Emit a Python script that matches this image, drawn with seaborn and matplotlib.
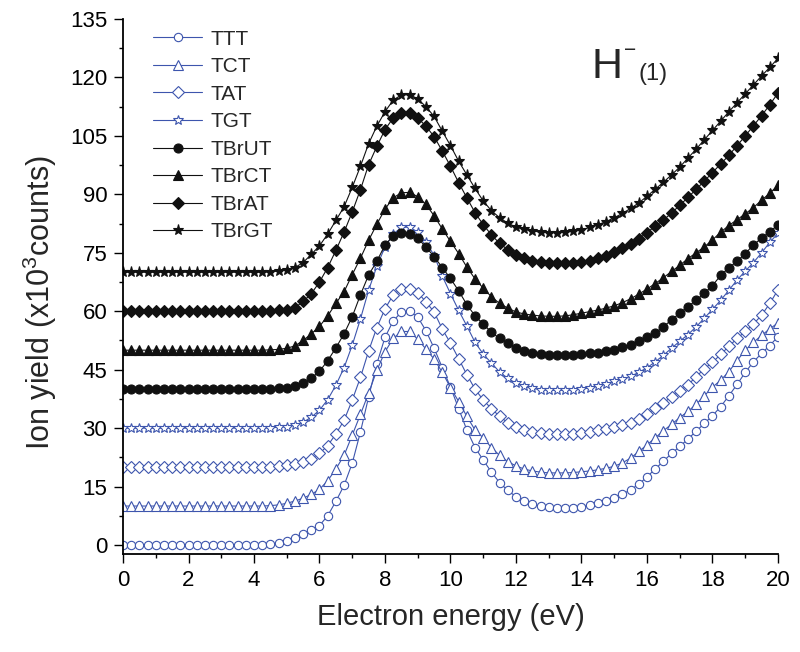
import numpy as np
import pandas as pd
import matplotlib
matplotlib.use("Agg")
import matplotlib.pyplot as plt
from matplotlib.ticker import MultipleLocator
from matplotlib.lines import Line2D
import seaborn as sns

# ---------------- data ----------------
energy = [0.0, 0.25, 0.5, 0.75, 1.0, 1.25, 1.5, 1.75, 2.0, 2.25, 2.5, 2.75,
          3.0, 3.25, 3.5, 3.75, 4.0, 4.25, 4.5, 4.75, 5.0, 5.25, 5.5, 5.75,
          6.0, 6.25, 6.5, 6.75, 7.0, 7.25, 7.5, 7.75, 8.0, 8.25, 8.5, 8.75,
          9.0, 9.25, 9.5, 9.75, 10.0, 10.25, 10.5, 10.75, 11.0, 11.25, 11.5, 11.75,
          12.0, 12.25, 12.5, 12.75, 13.0, 13.25, 13.5, 13.75, 14.0, 14.25, 14.5, 14.75,
          15.0, 15.25, 15.5, 15.75, 16.0, 16.25, 16.5, 16.75, 17.0, 17.25, 17.5, 17.75,
          18.0, 18.25, 18.5, 18.75, 19.0, 19.25, 19.5, 19.75, 20.0]

TTT = [0, 0, 0, 0, 0, 0, 0, 0, 0, 0, 0, 0, 0, 0, 0, 0, 0, 0,
       0.2, 0.5, 1.0, 1.8, 2.8, 3.8, 5.0, 7.5, 11.2, 15.3,
       21, 29, 38, 46.5, 53.3, 57.5, 59.8, 60, 58.5, 55,
       50.5, 45.5, 40.5, 35, 29.5, 25, 21.8, 18.7, 16, 14,
       12.4, 11.2, 10.5, 10, 9.7, 9.5, 9.5, 9.6, 9.8, 10.2,
       10.7, 11.3, 12, 13, 14.2, 15.6, 17.5, 19.5, 21.5, 23.5,
       25.3, 27.2, 29.2, 31.2, 33.2, 35.5, 38.3, 41.2, 44.3, 47,
       49.2, 51.2, 53.5]

TCT = [10, 10, 10, 10, 10, 10, 10, 10, 10, 10, 10, 10, 10, 10, 10, 10, 10, 10,
       10.1, 10.3, 10.7, 11.3, 12, 13, 14.3, 16.5, 19.5, 23,
       28.2, 33.5, 39, 44.8, 49.6, 53, 54.8, 54.8, 52.8, 50.3,
       47.7, 44.3, 40.4, 36.8, 33, 29.5, 27.5, 25, 23, 21.4,
       20.3, 19.5, 19, 18.7, 18.5, 18.5, 18.5, 18.6, 18.8, 19,
       19.3, 19.7, 20.2, 21.1, 22.3, 24, 25.7, 27.5, 29.3, 31,
       32.7, 34.3, 36.1, 38.3, 40.5, 42.3, 44.5, 47.3, 50, 52,
       53.8, 55.5, 57]

TAT = [20, 20, 20, 20, 20, 20, 20, 20, 20, 20, 20, 20, 20, 20, 20, 20, 20, 20,
       20.1, 20.3, 20.5, 20.8, 21.3, 22.2, 23.5, 25.5, 28.5, 32,
       37.2, 43, 49.8, 55.8, 60.6, 64.2, 65.8, 65.7, 64.8, 62.4,
       59.8, 55.4, 51.8, 47.8, 43.7, 40, 37.2, 35, 33, 31.4,
       30.3, 29.6, 29.1, 28.8, 28.6, 28.5, 28.5, 28.6, 28.7, 29,
       29.4, 29.9, 30.4, 30.9, 31.4, 32.3, 33.6, 35.1, 36.5, 38,
       39.5, 41.1, 43.2, 45.2, 46.9, 48.9, 51, 53, 54.8, 56.7,
       59, 62, 65.5]

TGT = [30, 30, 30, 30, 30, 30, 30, 30, 30, 30, 30, 30, 30, 30, 30, 30, 30, 30,
       30.1, 30.2, 30.4, 30.8, 31.5, 32.8, 34.6, 37.3, 41, 45.5,
       51.3, 58, 65.4, 71.5, 76.5, 79.8, 81.5, 81.6, 80.3, 77.8,
       74.3, 69, 64.5, 60.2, 56.2, 52, 49, 46.7, 44.4, 42.8,
       41.5, 40.7, 40.2, 39.9, 39.7, 39.7, 39.7, 39.8, 40, 40.3,
       40.8, 41.4, 42, 42.5, 43.3, 44.3, 45.5, 47, 48.7, 50.5,
       52.3, 54, 56, 58.2, 60.5, 62.8, 65.4, 68, 70.3, 72.5,
       75, 77.7, 80]

TBrUT = [40, 40, 40, 40, 40, 40, 40, 40, 40, 40, 40, 40, 40, 40, 40, 40, 40, 40,
         40.1, 40.2, 40.4, 40.8, 41.5, 42.8, 44.6, 47.3, 50.6, 54.2,
         58.6, 64.2, 69.3, 72.8, 77, 79.3, 80, 79.8, 78.7, 76.5,
         74, 71.2, 68.4, 65.2, 61.7, 58.8, 56.7, 54.6, 53, 51.8,
         50.6, 49.9, 49.4, 49.1, 48.8, 48.7, 48.7, 48.8, 49, 49.2,
         49.4, 49.7, 50.1, 50.7, 51.4, 52.4, 53.4, 54.4, 56, 57.8,
         59.5, 61.2, 62.8, 64.6, 66.6, 69.2, 71.2, 72.8, 74.8, 77,
         78.8, 80.4, 82.2]

TBrCT = [50, 50, 50, 50, 50, 50, 50, 50, 50, 50, 50, 50, 50, 50, 50, 50, 50, 50,
         50.1, 50.2, 50.5, 51.1, 52.5, 54.2, 56.1, 58.8, 62, 65,
         69.4, 73.6, 78.2, 82.3, 86.2, 89.1, 90.4, 90.5, 89.4, 87.4,
         84.5, 81.1, 77.9, 74.8, 71.3, 68.3, 65.9, 63.7, 62, 60.8,
         59.8, 59.3, 59, 58.8, 58.7, 58.7, 58.8, 59.1, 59.5, 59.9,
         60.3, 60.8, 61.4, 62.2, 63.2, 64.4, 65.7, 67.1, 68.6, 70.2,
         71.8, 73.5, 75, 76.5, 78.3, 80.3, 82, 83.5, 85, 86.6,
         88.5, 90.3, 92.3]

TBrAT = [60, 60, 60, 60, 60, 60, 60, 60, 60, 60, 60, 60, 60, 60, 60, 60, 60, 60,
         60.1, 60.2, 60.4, 60.9, 62.5, 64.5, 67.5, 71.2, 75.6, 80.3,
         85.5, 91.2, 97.6, 102.3, 106.6, 109.6, 110.8, 110.9, 109.6, 107.5,
         104.8, 101.1, 97.2, 93, 89.1, 85.3, 82.2, 79.6, 77.4, 75.8,
         74.5, 73.6, 73, 72.6, 72.4, 72.3, 72.3, 72.4, 72.6, 73,
         73.6, 74.3, 75.1, 76.1, 77.3, 78.6, 80.2, 81.8, 83.4, 85.2,
         87.2, 89.2, 91.3, 93.4, 95.6, 97.8, 100, 102.5, 105, 107.6,
         110.2, 113, 116]

TBrGT = [70, 70, 70, 70, 70, 70, 70, 70, 70, 70, 70, 70, 70, 70, 70, 70, 70, 70,
         70.1, 70.3, 70.6, 71.2, 72.5, 74.6, 76.8, 79.8, 83.3, 86.8,
         91.8, 97.2, 103, 107.5, 111.2, 114.2, 115.5, 115.6, 114.5, 112.5,
         110, 106.2, 102.5, 98.5, 95, 91.5, 88.3, 85.8, 84, 82.6,
         81.6, 81, 80.6, 80.3, 80.2, 80.2, 80.3, 80.5, 80.9, 81.5,
         82.2, 83, 84, 85.1, 86.4, 87.8, 89.5, 91.3, 93.1, 95,
         97, 99.3, 101.6, 104, 106.4, 108.8, 111.2, 113.5, 115.8, 118.1,
         120.4, 122.6, 124.9]

series_names = ["TTT", "TCT", "TAT", "TGT", "TBrUT", "TBrCT", "TBrAT", "TBrGT"]
series_values = [TTT, TCT, TAT, TGT, TBrUT, TBrCT, TBrAT, TBrGT]
yticks = [0, 15, 30, 45, 60, 75, 90, 105, 120, 135]
xticks = [0, 2, 4, 6, 8, 10, 12, 14, 16, 18, 20]

for name, vals in zip(series_names, series_values):
    assert len(vals) == len(energy), (name, len(vals))

# ---------------- styles ----------------
BLUE = "#3d55ad"
BLACK = "#111111"
styles = {
    "TTT":   dict(marker="o", color=BLUE, mfc="white", ms=6.0),
    "TCT":   dict(marker="^", color=BLUE, mfc="white", ms=6.5),
    "TAT":   dict(marker="D", color=BLUE, mfc="white", ms=5.8),
    "TGT":   dict(marker="*", color=BLUE, mfc="white", ms=7.5),
    "TBrUT": dict(marker="o", color=BLACK, mfc=BLACK, ms=6.5),
    "TBrCT": dict(marker="^", color=BLACK, mfc=BLACK, ms=7.0),
    "TBrAT": dict(marker="D", color=BLACK, mfc=BLACK, ms=5.8),
    "TBrGT": dict(marker="*", color=BLACK, mfc=BLACK, ms=8.0),
}

sns.set_style("ticks")
plt.rcParams["font.family"] = ["Liberation Sans", "DejaVu Sans"]
plt.rcParams["mathtext.fontset"] = "custom"
plt.rcParams["mathtext.rm"] = "Liberation Sans"
plt.rcParams["mathtext.it"] = "Liberation Sans"

fig = plt.figure(figsize=(8.0, 6.52), dpi=100)
ax = fig.add_axes([123 / 800, 1 - 554 / 652, 655 / 800, 535 / 652])

rows = []
for name, vals in zip(series_names, series_values):
    for e, v in zip(energy, vals):
        rows.append((name, e, v))
df = pd.DataFrame(rows, columns=["series", "energy", "yield"])

handles = []
for name in series_names:
    st = styles[name]
    sub = df[df["series"] == name]
    sns.lineplot(data=sub, x="energy", y="yield", ax=ax, estimator=None,
                 errorbar=None, sort=False, color=st["color"], linewidth=0.8,
                 marker=st["marker"], markersize=st["ms"],
                 markerfacecolor=st["mfc"], markeredgecolor=st["color"],
                 markeredgewidth=0.8, legend=False)
    handles.append(Line2D([], [], color=st["color"], linewidth=0.8,
                          marker=st["marker"], markersize=st["ms"],
                          markerfacecolor=st["mfc"], markeredgecolor=st["color"],
                          markeredgewidth=0.8))

ax.set_xlim(0, 20)
ax.set_ylim(-2.31, 135)
ax.set_xticks(xticks)
ax.set_yticks(yticks)
ax.xaxis.set_minor_locator(MultipleLocator(1))
ax.yaxis.set_minor_locator(MultipleLocator(7.5))
ax.tick_params(axis="both", which="major", direction="out", length=6.3,
               width=1.0, labelsize=16, pad=5, colors="black")
ax.tick_params(axis="both", which="minor", direction="out", length=3.2,
               width=1.0, colors="black")
for side in ["top", "right"]:
    ax.spines[side].set_visible(False)
for side in ["left", "bottom"]:
    ax.spines[side].set_linewidth(1.3)
    ax.spines[side].set_color("black")

ax.set_xlabel("Electron energy (eV)", fontsize=21, labelpad=9)
ax.set_ylabel(r"Ion yield (x10$^{\mathrm{3}}$counts)", fontsize=22)
ax.yaxis.set_label_coords(-0.098, 0.47)

leg = ax.legend(handles, series_names, loc="upper left",
                bbox_to_anchor=(0.046, 0.98), frameon=False, fontsize=15,
                handlelength=2.35, handletextpad=0.4, labelspacing=0.41,
                borderpad=0, borderaxespad=0, numpoints=1)

ax.text(14.3, 119.9, "H", fontsize=31, ha="left", va="baseline")
ax.text(15.48, 126.8, "\u2212", fontsize=15, ha="center", va="center")
ax.text(15.73, 119.4, "(1)", fontsize=17, ha="left", va="baseline")

fig.savefig("out.png", dpi=100)
